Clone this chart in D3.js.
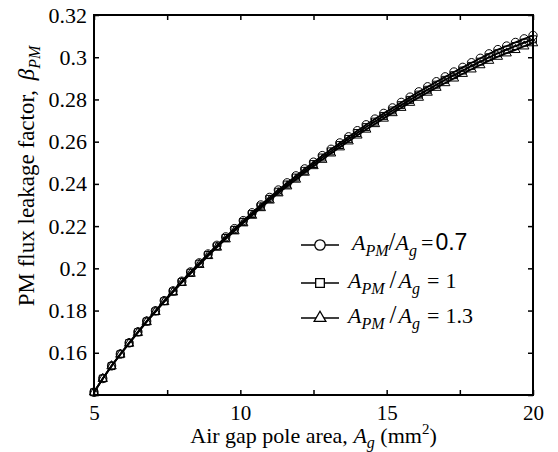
<!DOCTYPE html>
<html lang="en">
<head>
    <meta charset="UTF-8">
    <title>PM flux leakage factor</title>
    <script src="https://d3js.org/d3.v7.min.js"></script>
    <style>
        body { margin: 0; background: #fff; }
        text { font-family: "Liberation Serif", "Times New Roman", serif; fill: #000; }
    </style>
</head>
<body>
    <svg></svg>
    <script>
        const svgWidth = 558;
        const svgHeight = 452;

        // air gap pole area (mm^2)
        const area = [5.0, 5.3, 5.6, 5.9, 6.2, 6.5, 6.8, 7.1, 7.4, 7.7,
            8.0, 8.3, 8.6, 8.9, 9.2, 9.5, 9.8, 10.1, 10.4, 10.7,
            11.0, 11.3, 11.6, 11.9, 12.2, 12.5, 12.8, 13.1, 13.4, 13.7,
            14.0, 14.3, 14.6, 14.9, 15.2, 15.5, 15.8, 16.1, 16.4, 16.7,
            17.0, 17.3, 17.6, 17.9, 18.2, 18.5, 18.8, 19.1, 19.4, 19.7, 20.0];

        // leakage factor, A_PM/A_g = 0.7
        const beta07 = [0.1413, 0.1478, 0.1538, 0.1594, 0.1647, 0.1699, 0.1750, 0.1799, 0.1847, 0.1893,
            0.1939, 0.1983, 0.2026, 0.2068, 0.2109, 0.2149, 0.2188, 0.2226, 0.2263, 0.2300,
            0.2336, 0.2371, 0.2405, 0.2438, 0.2471, 0.2503, 0.2534, 0.2564, 0.2594, 0.2623,
            0.2652, 0.2680, 0.2707, 0.2734, 0.2760, 0.2786, 0.2811, 0.2836, 0.2860, 0.2884,
            0.2907, 0.2930, 0.2952, 0.2974, 0.2995, 0.3016, 0.3036, 0.3053, 0.3070, 0.3087, 0.3103];
        // A_PM/A_g = 1
        const beta10 = [0.1413, 0.1478, 0.1537, 0.1593, 0.1646, 0.1697, 0.1748, 0.1796, 0.1844, 0.1890,
            0.1935, 0.1979, 0.2022, 0.2063, 0.2104, 0.2144, 0.2182, 0.2220, 0.2257, 0.2293,
            0.2329, 0.2363, 0.2397, 0.2430, 0.2462, 0.2494, 0.2525, 0.2554, 0.2584, 0.2613,
            0.2641, 0.2669, 0.2695, 0.2722, 0.2748, 0.2773, 0.2798, 0.2823, 0.2846, 0.2870,
            0.2893, 0.2915, 0.2937, 0.2959, 0.2979, 0.3000, 0.3019, 0.3036, 0.3053, 0.3069, 0.3085];
        // A_PM/A_g = 1.3
        const beta13 = [0.1413, 0.1477, 0.1537, 0.1592, 0.1644, 0.1695, 0.1746, 0.1794, 0.1841, 0.1887,
            0.1932, 0.1975, 0.2017, 0.2059, 0.2099, 0.2138, 0.2176, 0.2214, 0.2250, 0.2286,
            0.2322, 0.2356, 0.2389, 0.2421, 0.2454, 0.2485, 0.2515, 0.2545, 0.2574, 0.2602,
            0.2630, 0.2658, 0.2684, 0.2710, 0.2736, 0.2761, 0.2785, 0.2809, 0.2833, 0.2856,
            0.2878, 0.2900, 0.2922, 0.2943, 0.2963, 0.2984, 0.3003, 0.3019, 0.3035, 0.3052, 0.3067];

        const ratioLabels = ["0.7", "1", "1.3"];
        const markerTypes = ["circle", "square", "triangle"];
        const xTicks = [5, 7.5, 10, 12.5, 15, 17.5, 20];
        const xTickLabels = [5, 10, 15, 20];
        const yTicks = [0.14, 0.16, 0.18, 0.2, 0.22, 0.24, 0.26, 0.28, 0.3, 0.32];
        const yTickLabels = [0.16, 0.18, 0.2, 0.22, 0.24, 0.26, 0.28, 0.3, 0.32];

        const series = [beta07, beta10, beta13].map((vals, i) => ({
            label: ratioLabels[i],
            marker: markerTypes[i],
            points: vals.map((v, j) => ({x: area[j], y: v}))
        }));

        const margin = {top: 15, right: 25, bottom: 57, left: 94};
        const width = svgWidth - margin.left - margin.right;
        const height = svgHeight - margin.top - margin.bottom;
        const serif = '"Liberation Serif", "Times New Roman", serif';

        const svg = d3.select('svg')
            .attr("width", svgWidth)
            .attr("height", svgHeight);

        const g = svg.append('g')
            .attr("transform", `translate(${margin.left},${margin.top})`);

        const x = d3.scaleLinear().domain([5, 20]).range([0, width]);
        const y = d3.scaleLinear().domain([0.14, 0.32]).range([height, 0]);

        const fmt = d => String(+d.toFixed(2));

        // axes, ticks pointing inward on all four sides
        const tickStyle = (sel, size) => {
            sel.attr("font-family", serif).attr("font-size", size);
            sel.select(".domain").remove();
            sel.selectAll("line").attr("stroke", "#000").attr("stroke-width", 1.5);
        };

        g.append("g")
            .attr("transform", `translate(0,${height})`)
            .call(d3.axisBottom(x).tickValues(xTicks).tickSizeInner(-5).tickSizeOuter(0)
                .tickPadding(10).tickFormat(d => xTickLabels.includes(d) ? d : ""))
            .call(tickStyle, 21);
        g.append("g")
            .call(d3.axisTop(x).tickValues(xTicks).tickSizeInner(-5).tickFormat(""))
            .call(tickStyle, 21);
        g.append("g")
            .call(d3.axisLeft(y).tickValues(yTicks).tickSizeInner(-5).tickSizeOuter(0)
                .tickPadding(7).tickFormat(d => yTickLabels.some(t => Math.abs(t - d) < 1e-9) ? fmt(d) : ""))
            .call(tickStyle, 22);
        g.append("g")
            .attr("transform", `translate(${width},0)`)
            .call(d3.axisRight(y).tickValues(yTicks).tickSizeInner(-5).tickFormat(""))
            .call(tickStyle, 22);

        g.append("rect")
            .attr("width", width).attr("height", height)
            .attr("fill", "none").attr("stroke", "#000").attr("stroke-width", 2);

        const symbolFor = {
            circle: d3.symbol().type(d3.symbolCircle).size(55),
            square: d3.symbol().type(d3.symbolSquare).size(48),
            triangle: d3.symbol().type(d3.symbolTriangle).size(38)
        };

        const line = d3.line().x(d => x(d.x)).y(d => y(d.y));

        series.forEach(s => {
            g.append("path")
                .datum(s.points)
                .attr("d", line)
                .attr("fill", "none")
                .attr("stroke", "#000")
                .attr("stroke-width", 1.8);
            g.selectAll(null)
                .data(s.points)
                .enter()
                .append("path")
                .attr("d", symbolFor[s.marker])
                .attr("transform", d => `translate(${x(d.x)},${y(d.y)})`)
                .attr("fill", "none")
                .attr("stroke", "#000")
                .attr("stroke-width", 1);
        });

        // legend (no box)
        const legendSym = {
            circle: d3.symbol().type(d3.symbolCircle).size(85),
            square: d3.symbol().type(d3.symbolSquare).size(75),
            triangle: d3.symbol().type(d3.symbolTriangle).size(60)
        };
        const rowY = [245, 283, 318];
        series.forEach((s, i) => {
            const row = svg.append("g").attr("transform", `translate(301,${rowY[i]})`);
            row.append("line").attr("x1", 0).attr("x2", 38)
                .attr("stroke", "#000").attr("stroke-width", 1.5);
            row.append("path").attr("d", legendSym[s.marker])
                .attr("transform", "translate(19,0)")
                .attr("fill", "#fff").attr("stroke", "#000").attr("stroke-width", 1.3);
            const t = row.append("text").attr("x", i === 0 ? 51 : 47).attr("y", 5).attr("font-size", 22);
            t.append("tspan").attr("font-style", "italic").text("A");
            t.append("tspan").attr("font-style", "italic").attr("font-size", 16).attr("dy", 6).text("PM");
            t.append("tspan").attr("dy", -6).attr("dx", i === 0 ? 0 : 5).attr("font-size", 25).text("/");
            t.append("tspan").attr("font-style", "italic").attr("dx", i === 0 ? 0 : 2).text("A");
            t.append("tspan").attr("font-style", "italic").attr("font-size", 16).attr("dy", 6).text("g");
            t.append("tspan").attr("dy", -6).attr("dx", i === 0 ? 4 : 7).text("=");
            t.append("tspan")
                .attr("dx", i === 0 ? 2 : 6)
                .attr("font-family", i === 0 ? '"Liberation Sans", Arial, sans-serif' : null)
                .attr("font-size", i === 0 ? 23 : 22)
                .text(s.label);
        });

        // axis titles
        const xt = svg.append("text")
            .attr("x", margin.left + width / 2).attr("y", 443)
            .attr("text-anchor", "middle").attr("font-size", 22);
        xt.append("tspan").text("Air gap pole area, ");
        xt.append("tspan").attr("font-style", "italic").text("A");
        xt.append("tspan").attr("font-style", "italic").attr("font-size", 16).attr("dy", 5).text("g");
        xt.append("tspan").attr("dy", -5).text(" (mm");
        xt.append("tspan").attr("font-size", 15).attr("dy", -9).text("2");
        xt.append("tspan").attr("dy", 9).text(")");

        const yt = svg.append("text")
            .attr("transform", "translate(34,176) rotate(-90)")
            .attr("text-anchor", "middle").attr("font-size", 23);
        yt.append("tspan").text("PM flux leakage factor, ");
        yt.append("tspan").attr("font-style", "italic").attr("dx", 4).text("β");
        yt.append("tspan").attr("font-style", "italic").attr("font-size", 16).attr("dy", 6).text("PM");
    </script>
</body>
</html>
